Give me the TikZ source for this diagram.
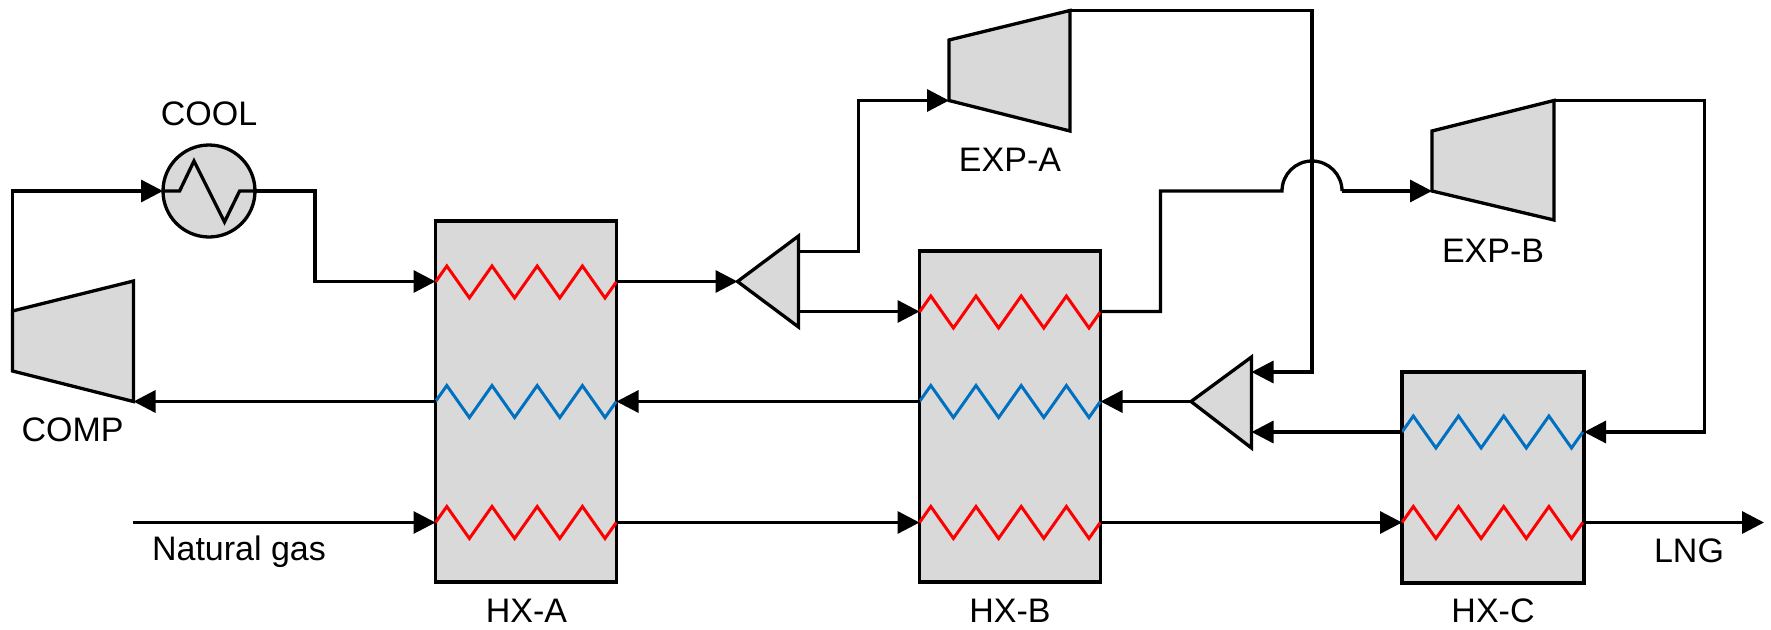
\documentclass[tikz,border=0pt]{standalone}
\usepackage{fontspec}
\setmainfont{Liberation Sans}
\usetikzlibrary{arrows.meta}
\definecolor{unitfill}{HTML}{D9D9D9}
\definecolor{coldblue}{HTML}{0070C0}
\definecolor{hotred}{HTML}{FF0000}
\newcommand{\zigpath}{-- ++(11.3,-16) -- ++(22.6,32) -- ++(22.6,-32) -- ++(22.6,32) -- ++(22.6,-32) -- ++(22.6,32) -- ++(22.6,-32) -- ++(22.6,32) -- ++(11.3,-16)}
\tikzset{
  unit/.style={draw=black,fill=unitfill,line width=3.3pt,line join=miter},
  hx/.style={unit,rectangle,minimum width=181pt,inner sep=0pt,outer sep=0pt},
  coolerbody/.style={unit,circle,minimum size=92pt,inner sep=0pt,outer sep=0pt},
  flow/.style={draw=black,line width=3.3pt,line join=miter,-{Triangle[length=22pt,width=22pt]}},
  plainflow/.style={draw=black,line width=3.3pt,line join=miter},
  feed/.style={draw=black,line width=3pt,-{Triangle[length=22pt,width=22pt]}},
  hot/.style={draw=hotred,line width=3pt,line join=miter},
  cold/.style={draw=coldblue,line width=3pt,line join=miter},
  tag/.style={inner sep=0pt,font=\fontsize{34}{37}\selectfont,text=black}
}
\begin{document}
\begin{tikzpicture}[x=1pt,y=-1pt]
\useasboundingbox (0,0) rectangle (1771,629);

% Heat exchangers
\node[hx,minimum height=361pt] (hxa) at (526,401.5) {};
\node[hx,minimum height=331pt] (hxb) at (1010,416.5) {};
\node[hx,minimum height=211pt,minimum width=182pt] (hxc) at (1493,477.5) {};

% Compressor and expanders
\coordinate (compIn) at (133.5,401.5);
\coordinate (compOut) at (12.5,311);
\draw[unit] (compOut) -- (133.5,281) -- (compIn) -- (12.5,371) -- cycle;
\coordinate (expaIn) at (949,100.5);
\coordinate (expaOut) at (1070,10.5);
\draw[unit] (949,40) -- (expaOut) -- (1070,131) -- (expaIn) -- cycle;
\coordinate (expbIn) at (1432,191);
\coordinate (expbOut) at (1554,100.5);
\draw[unit] (1432,131) -- (expbOut) -- (1554,220) -- (expbIn) -- cycle;

% Splitter and mixer
\coordinate (splitIn) at (737.5,281.5);
\coordinate (splitTop) at (798.5,251.5);
\coordinate (splitLow) at (798.5,311.5);
\draw[unit] (splitIn) -- (798.5,236) -- (798.5,327) -- cycle;
\coordinate (mixOut) at (1191,401.5);
\coordinate (mixTop) at (1251.5,372);
\coordinate (mixLow) at (1251.5,432);
\draw[unit] (mixOut) -- (1251.5,357) -- (1251.5,448) -- cycle;

% Cooler
\node[coolerbody] (cool) at (209,191) {};

% Coils
\draw[hot] (435.5,282) \zigpath;
\draw[cold] (435.5,401.5) \zigpath;
\draw[hot] (435.5,522.5) \zigpath;
\draw[hot] (919.5,312) \zigpath;
\draw[cold] (919.5,401.5) \zigpath;
\draw[hot] (919.5,522.5) \zigpath;
\draw[cold] (1402,432) \zigpath;
\draw[hot] (1402,522.5) \zigpath;

% Connectors
\coordinate (ngStart) at (132.5,522.5);
\coordinate (lngEnd) at (1764,522.5);
\draw[flow] (compOut) -- (12.5,191) -- (cool.west);
\draw[plainflow] (cool.west) -- (179.6,191) -- (194,161) -- (224.5,222) -- (239.6,191) -- (cool.east);
\draw[flow] (cool.east) -- (315,191) -- (315,281.5) -- (hxa.west |- 0,281.5);
\draw[flow] (hxa.east |- 0,281.5) -- (splitIn);
\draw[flow] (splitTop) -- (858.5,251.5) -- (858.5,100.5) -- (expaIn);
\draw[flow] (splitLow) -- (hxb.west |- 0,311.5);
\draw[plainflow] (hxb.east |- 0,311.5) -- (1160.5,311.5) -- (1160.5,191) -- (1282,191)
  arc[start angle=180,end angle=360,radius=30];
\draw[flow] (1342,191) -- (expbIn);
\draw[flow] (expaOut) -- (1312,10.5) -- (1312,372) -- (mixTop);
\draw[flow] (expbOut) -- (1704.5,100.5) -- (1704.5,432) -- (hxc.east |- 0,432);
\draw[flow] (hxc.west |- 0,432) -- (mixLow);
\draw[flow] (mixOut) -- (hxb.east |- 0,401.5);
\draw[flow] (hxb.west |- 0,401.5) -- (hxa.east |- 0,401.5);
\draw[flow] (hxa.west |- 0,401.5) -- (compIn);
\draw[feed] (ngStart) -- (hxa.west |- 0,522.5);
\draw[flow] (hxa.east |- 0,522.5) -- (hxb.west |- 0,522.5);
\draw[flow] (hxb.east |- 0,522.5) -- (hxc.west |- 0,522.5);
\draw[flow] (hxc.east |- 0,522.5) -- (lngEnd);

% Labels
\node[tag] (lblCool) at (209,113.5) {COOL};
\node[tag] (lblComp) at (72.5,430) {COMP};
\node[tag] (lblNg) at (239,552) {Natural gas};
\node[tag] (lblHxa) at (526.5,611) {HX-A};
\node[tag] (lblHxb) at (1010,611) {HX-B};
\node[tag] (lblHxc) at (1493,611) {HX-C};
\node[tag] (lblExpa) at (1010,159.5) {EXP-A};
\node[tag] (lblExpb) at (1493,251) {EXP-B};
\node[tag] (lblLng) at (1689,551) {LNG};
\end{tikzpicture}
\end{document}
